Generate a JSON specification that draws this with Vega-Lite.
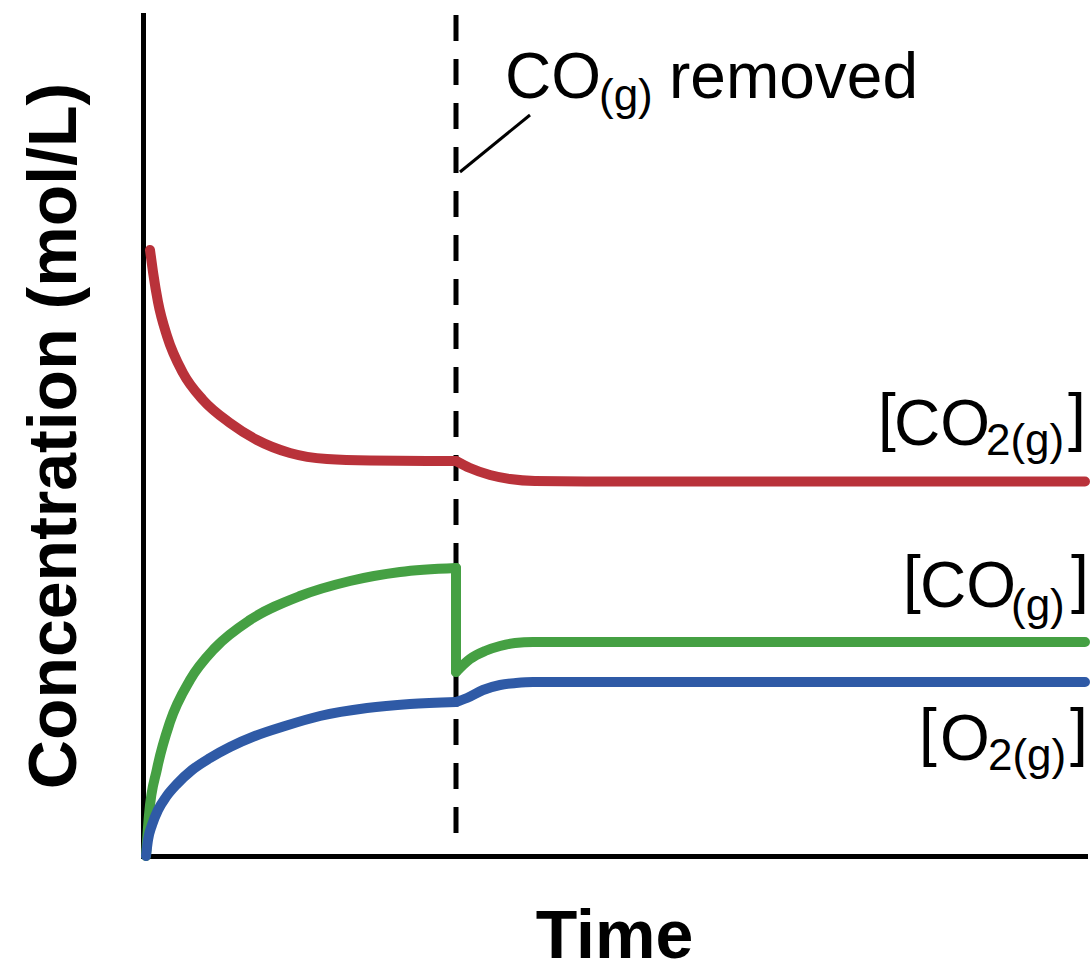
{
  "$schema": "https://vega.github.io/schema/vega-lite/v6.json",
  "width": 942,
  "height": 841,
  "autosize": {"type": "none"},
  "padding": {"left": 143, "top": 15, "right": 6, "bottom": 114},
  "background": "white",
  "config": {
    "view": {"stroke": null},
    "axis": {
      "grid": false, "labels": false, "ticks": false,
      "domainColor": "black", "domainWidth": 5, "domainCap": "square",
      "titleFont": "Liberation Sans", "titleFontWeight": "bold", "titleFontSize": 68, "titleColor": "black"
    }
  },
  "datasets": {
    "curves": [
      {"s": "CO2", "g": "r1", "t": 7, "c": 606},
      {"s": "CO2", "g": "r1", "t": 10, "c": 584},
      {"s": "CO2", "g": "r1", "t": 15, "c": 554},
      {"s": "CO2", "g": "r1", "t": 24, "c": 520},
      {"s": "CO2", "g": "r1", "t": 40, "c": 483},
      {"s": "CO2", "g": "r1", "t": 60, "c": 456},
      {"s": "CO2", "g": "r1", "t": 87, "c": 433},
      {"s": "CO2", "g": "r1", "t": 114, "c": 416},
      {"s": "CO2", "g": "r1", "t": 147, "c": 403},
      {"s": "CO2", "g": "r1", "t": 184, "c": 397},
      {"s": "CO2", "g": "r1", "t": 227, "c": 395.5},
      {"s": "CO2", "g": "r1", "t": 313, "c": 395},
      {"s": "CO2", "g": "r2", "t": 313, "c": 395},
      {"s": "CO2", "g": "r2", "t": 327, "c": 388},
      {"s": "CO2", "g": "r2", "t": 347, "c": 381},
      {"s": "CO2", "g": "r2", "t": 367, "c": 377},
      {"s": "CO2", "g": "r2", "t": 392, "c": 375},
      {"s": "CO2", "g": "r2", "t": 457, "c": 374.5},
      {"s": "CO2", "g": "r2", "t": 942, "c": 374.5},
      {"s": "CO", "g": "g1", "t": 3, "c": 0},
      {"s": "CO", "g": "g1", "t": 6, "c": 41},
      {"s": "CO", "g": "g1", "t": 14, "c": 87},
      {"s": "CO", "g": "g1", "t": 27, "c": 134},
      {"s": "CO", "g": "g1", "t": 47, "c": 176},
      {"s": "CO", "g": "g1", "t": 72, "c": 208},
      {"s": "CO", "g": "g1", "t": 107, "c": 236},
      {"s": "CO", "g": "g1", "t": 157, "c": 260},
      {"s": "CO", "g": "g1", "t": 207, "c": 275},
      {"s": "CO", "g": "g1", "t": 257, "c": 284},
      {"s": "CO", "g": "g1", "t": 313, "c": 288},
      {"s": "CO", "g": "g2", "t": 313, "c": 288},
      {"s": "CO", "g": "g2", "t": 313, "c": 184},
      {"s": "CO", "g": "g3", "t": 313, "c": 184},
      {"s": "CO", "g": "g3", "t": 327, "c": 197},
      {"s": "CO", "g": "g3", "t": 342, "c": 205},
      {"s": "CO", "g": "g3", "t": 357, "c": 210},
      {"s": "CO", "g": "g3", "t": 372, "c": 213},
      {"s": "CO", "g": "g3", "t": 390, "c": 214},
      {"s": "CO", "g": "g3", "t": 457, "c": 214},
      {"s": "CO", "g": "g3", "t": 942, "c": 214},
      {"s": "O2", "g": "b1", "t": 3, "c": 0},
      {"s": "O2", "g": "b1", "t": 5, "c": 16},
      {"s": "O2", "g": "b1", "t": 9, "c": 31},
      {"s": "O2", "g": "b1", "t": 15, "c": 46},
      {"s": "O2", "g": "b1", "t": 23, "c": 59},
      {"s": "O2", "g": "b1", "t": 34, "c": 72},
      {"s": "O2", "g": "b1", "t": 49, "c": 86},
      {"s": "O2", "g": "b1", "t": 67, "c": 98},
      {"s": "O2", "g": "b1", "t": 87, "c": 109},
      {"s": "O2", "g": "b1", "t": 112, "c": 120},
      {"s": "O2", "g": "b1", "t": 142, "c": 130},
      {"s": "O2", "g": "b1", "t": 177, "c": 140},
      {"s": "O2", "g": "b1", "t": 224, "c": 148},
      {"s": "O2", "g": "b1", "t": 267, "c": 152},
      {"s": "O2", "g": "b1", "t": 313, "c": 154},
      {"s": "O2", "g": "b2", "t": 313, "c": 154},
      {"s": "O2", "g": "b2", "t": 324, "c": 158},
      {"s": "O2", "g": "b2", "t": 340, "c": 166},
      {"s": "O2", "g": "b2", "t": 357, "c": 171},
      {"s": "O2", "g": "b2", "t": 373, "c": 173},
      {"s": "O2", "g": "b2", "t": 390, "c": 174},
      {"s": "O2", "g": "b2", "t": 457, "c": 174},
      {"s": "O2", "g": "b2", "t": 942, "c": 174}
    ],
    "mainText": [
      {"label": "[", "t": 735, "c": 417},
      {"label": "CO", "t": 751, "c": 411},
      {"label": "]", "t": 925, "c": 417},
      {"label": "[", "t": 760, "c": 255},
      {"label": "CO", "t": 777, "c": 249},
      {"label": "]", "t": 928, "c": 255},
      {"label": "[", "t": 776, "c": 102},
      {"label": "O", "t": 797, "c": 96},
      {"label": "]", "t": 927, "c": 102},
      {"label": "CO", "t": 362, "c": 758},
      {"label": "removed", "t": 526, "c": 758}
    ],
    "subText": [
      {"label": "2(g)", "t": 843, "c": 401},
      {"label": "(g)", "t": 868, "c": 236},
      {"label": "2(g)", "t": 845, "c": 86},
      {"label": "(g)", "t": 456, "c": 746}
    ]
  },
  "layer": [
    {
      "data": {"values": [{"t": 313, "c": 841, "c2": 14}]},
      "mark": {"type": "rule", "color": "black", "strokeWidth": 5, "strokeDash": [26, 18]},
      "encoding": {
        "x": {"field": "t", "type": "quantitative", "scale": {"domain": [0, 942], "nice": false, "zero": false}, "axis": {"title": "Time", "titlePadding": 47}},
        "y": {"field": "c", "type": "quantitative", "scale": {"domain": [0, 841], "nice": false, "zero": false}, "axis": {"title": "Concentration (mol/L)", "titlePadding": 54}},
        "y2": {"field": "c2"}
      }
    },
    {
      "data": {"values": [{"t": 317, "c": 684, "t2": 387, "c2": 741}]},
      "mark": {"type": "rule", "color": "black", "strokeWidth": 3},
      "encoding": {
        "x": {"field": "t", "type": "quantitative", "axis": {"title": "Time", "titlePadding": 47}},
        "y": {"field": "c", "type": "quantitative", "axis": {"title": "Concentration (mol/L)", "titlePadding": 54}},
        "x2": {"field": "t2"},
        "y2": {"field": "c2"}
      }
    },
    {
      "data": {"name": "curves"},
      "mark": {"type": "line", "interpolate": "monotone", "strokeWidth": 10, "strokeCap": "round", "strokeJoin": "round"},
      "encoding": {
        "x": {"field": "t", "type": "quantitative", "axis": {"title": "Time", "titlePadding": 47}},
        "y": {"field": "c", "type": "quantitative", "axis": {"title": "Concentration (mol/L)", "titlePadding": 54}},
        "color": {"field": "s", "type": "nominal", "scale": {"domain": ["CO2", "CO", "O2"], "range": ["#b9323a", "#45a043", "#2f5aa6"]}, "legend": null},
        "detail": {"field": "g"},
        "order": {"field": "t"}
      }
    },
    {
      "data": {"name": "mainText"},
      "mark": {"type": "text", "font": "Liberation Sans", "fontSize": 64, "align": "left", "baseline": "alphabetic", "color": "black"},
      "encoding": {
        "x": {"field": "t", "type": "quantitative", "axis": {"title": "Time", "titlePadding": 47}},
        "y": {"field": "c", "type": "quantitative", "axis": {"title": "Concentration (mol/L)", "titlePadding": 54}},
        "text": {"field": "label"}
      }
    },
    {
      "data": {"name": "subText"},
      "mark": {"type": "text", "font": "Liberation Sans", "fontSize": 44, "align": "left", "baseline": "alphabetic", "color": "black"},
      "encoding": {
        "x": {"field": "t", "type": "quantitative", "axis": {"title": "Time", "titlePadding": 47}},
        "y": {"field": "c", "type": "quantitative", "axis": {"title": "Concentration (mol/L)", "titlePadding": 54}},
        "text": {"field": "label"}
      }
    }
  ]
}
